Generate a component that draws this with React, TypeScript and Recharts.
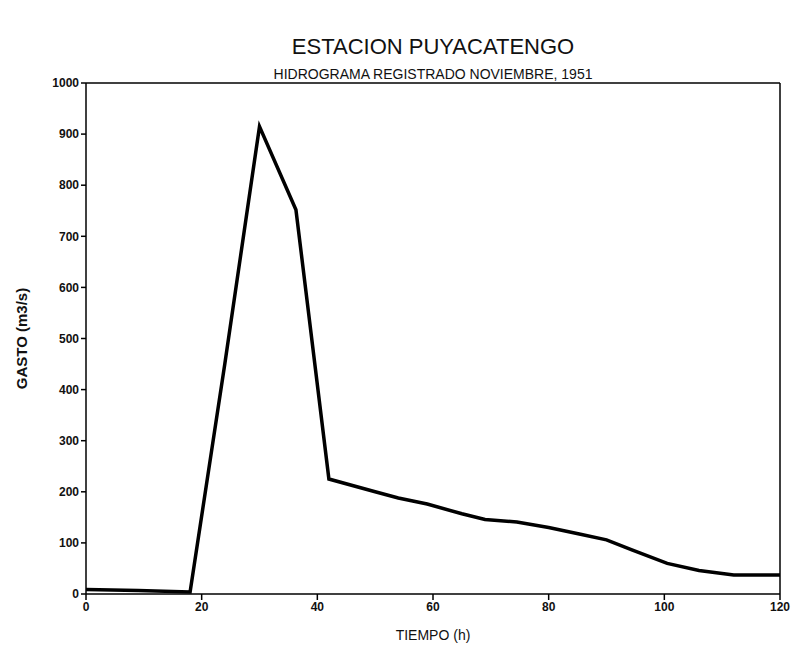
import React from "react";
import {
  LineChart,
  Line,
  XAxis,
  YAxis,
  ReferenceLine,
  Label,
} from "recharts";

const hours = [0, 9, 18, 24, 30, 36.3, 42, 50, 54, 59, 65, 69, 74.5, 80, 85.5, 90, 94.5, 100.5, 106, 112, 120];
const flow = [9, 7, 4, 450, 915, 752, 225, 200, 188, 176, 157, 146, 141, 130, 117, 106, 86, 60, 46, 37, 37];
const xTicks = [0, 20, 40, 60, 80, 100, 120];
const yTicks = [0, 100, 200, 300, 400, 500, 600, 700, 800, 900, 1000];

const data = hours.map((h, i) => ({ h, q: flow[i] }));

const font = "'Liberation Sans', Arial, sans-serif";

const App = () => {
  return (
    <div style={{ position: "absolute", left: 0, top: 0, width: 797, height: 652, background: "#fff", fontFamily: font }}>
      <div style={{ position: "absolute", top: 34, left: 86, width: 694, textAlign: "center", fontSize: 22, color: "#111" }}>
        ESTACION PUYACATENGO
      </div>
      <div style={{ position: "absolute", top: 66, left: 86, width: 694, textAlign: "center", fontSize: 14, color: "#111" }}>
        HIDROGRAMA REGISTRADO NOVIEMBRE, 1951
      </div>
      <LineChart
        width={797}
        height={652}
        data={data}
        margin={{ top: 83, right: 17, bottom: 28, left: 26 }}
      >
        <XAxis
          dataKey="h"
          type="number"
          domain={[0, 120]}
          ticks={xTicks}
          height={30}
          stroke="#000"
          strokeWidth={1.5}
          tickSize={6}
          tick={{ fill: "#111", fontSize: 12, fontWeight: "bold", fontFamily: font }}
        >
          <Label value="TIEMPO (h)" position="insideBottom" offset={-16} style={{ fill: "#111", fontSize: 14, fontFamily: font }} />
        </XAxis>
        <YAxis
          type="number"
          domain={[0, 1000]}
          ticks={yTicks}
          width={60}
          stroke="#000"
          strokeWidth={1.5}
          tickSize={5}
          tick={{ fill: "#111", fontSize: 12, fontWeight: "bold", fontFamily: font }}
        >
          <Label value="GASTO (m3/s)" angle={-90} position="insideLeft" offset={-4} style={{ textAnchor: "middle", fill: "#111", fontSize: 15, fontWeight: "bold", fontFamily: font }} />
        </YAxis>
        <ReferenceLine y={1000} stroke="#000" strokeWidth={1.5} />
        <ReferenceLine x={120} stroke="#000" strokeWidth={1.5} />
        <Line
          dataKey="q"
          type="linear"
          stroke="#000"
          strokeWidth={3.5}
          dot={false}
          isAnimationActive={false}
        />
      </LineChart>
    </div>
  );
};

export default App;
